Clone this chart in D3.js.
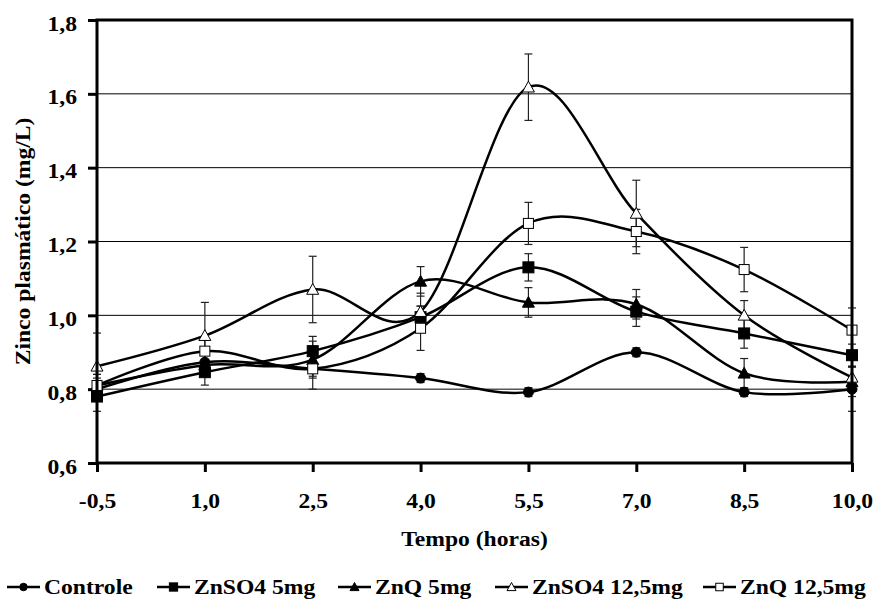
<!DOCTYPE html>
<html lang="pt">
<head>
<meta charset="UTF-8">
<title>Zinco plasmático</title>
<script src="https://d3js.org/d3.v7.min.js"></script>
<style>
    body { margin: 0; background: #fff; }
    text { font-family: "Liberation Serif", "Times New Roman", serif; font-weight: bold; fill: #000; }
</style>
</head>
<body>
<svg id="chart" width="876" height="602"></svg>
<script>
    const width = 876;
    const height = 602;
    const margin = { top: 20, right: 24, bottom: 139, left: 97 };
    const stretch = 1.18; // text in the original is a bit wider than tall

    // data
    const tempos = ["-0,5", "1,0", "2,5", "4,0", "5,5", "7,0", "8,5", "10,0"];
    const yTicks = [0.6, 0.8, 1.0, 1.2, 1.4, 1.6, 1.8];

    const controle = [0.800, 0.873, 0.855, 0.830, 0.792, 0.900, 0.792, 0.800];
    const controleErr = [0.03, 0.02, 0.02, 0.012, 0.012, 0.012, 0.012, 0.06];
    const znso4_5 = [0.780, 0.846, 0.903, 0.995, 1.130, 1.010, 0.951, 0.892];
    const znso4_5Err = [0.04, 0.035, 0.04, 0.03, 0.037, 0.04, 0.04, 0.03];
    const znq_5 = [0.810, 0.865, 0.880, 1.092, 1.035, 1.030, 0.843, 0.820];
    const znq_5Err = [0.03, 0.03, 0.05, 0.04, 0.04, 0.04, 0.04, 0.04];
    const znso4_125 = [0.862, 0.945, 1.070, 1.010, 1.618, 1.276, 1.000, 0.832];
    const znso4_125Err = [0.09, 0.09, 0.09, 0.05, 0.09, 0.09, 0.04, 0.03];
    const znq_125 = [0.810, 0.903, 0.855, 0.965, 1.249, 1.227, 1.124, 0.960];
    const znq_125Err = [0.03, 0.03, 0.055, 0.06, 0.057, 0.06, 0.06, 0.06];

    const series = [
        { name: "Controle", values: controle, err: controleErr, marker: "circle", fill: "#000" },
        { name: "ZnSO4 5mg", values: znso4_5, err: znso4_5Err, marker: "square", fill: "#000" },
        { name: "ZnQ 5mg", values: znq_5, err: znq_5Err, marker: "triangle", fill: "#000" },
        { name: "ZnSO4 12,5mg", values: znso4_125, err: znso4_125Err, marker: "triangle", fill: "#fff" },
        { name: "ZnQ 12,5mg", values: znq_125, err: znq_125Err, marker: "square", fill: "#fff" }
    ];

    const svg = d3.select("#chart");

    const x = d3.scalePoint().domain(tempos).range([margin.left, width - margin.right]);
    const y = d3.scaleLinear().domain([0.6, 1.8]).range([height - margin.bottom, margin.top]);
    const fmt = v => d3.format(".1f")(v).replace(".", ",");

    function label(px, py, txt, anchor) {
        return svg.append("text")
            .attr("transform", `translate(${px},${py}) scale(${stretch},1)`)
            .attr("text-anchor", anchor || "start")
            .style("font-size", "20px")
            .text(txt);
    }

    // gridlines
    svg.append("g")
        .selectAll("line")
        .data(yTicks.slice(1, -1))
        .join("line")
        .attr("x1", margin.left).attr("x2", width - margin.right)
        .attr("y1", d => y(d)).attr("y2", d => y(d))
        .attr("stroke", "#000").attr("stroke-width", 1);

    // axes
    const yAxis = svg.append("g")
        .attr("transform", `translate(${margin.left},0)`)
        .call(d3.axisLeft(y).tickValues(yTicks).tickSize(9).tickPadding(11).tickFormat(fmt));
    const xAxis = svg.append("g")
        .attr("transform", `translate(0,${height - margin.bottom})`)
        .call(d3.axisBottom(x).tickSize(9).tickPadding(22));
    [yAxis, xAxis].forEach(a => {
        a.select(".domain").remove();
        a.selectAll(".tick line").attr("stroke", "#000").attr("stroke-width", 3);
        a.selectAll(".tick text").style("font-size", "20px")
            .style("font-family", "'Liberation Serif', 'Times New Roman', serif")
            .style("font-weight", "bold")
            .attr("transform", `scale(${stretch},1)`);
    });
    yAxis.selectAll(".tick text").attr("x", -20 / stretch).attr("dy", "0.5em");

    // marker shapes
    function drawMarker(sel, type, fill, size) {
        const s = size || 1;
        if (type === "circle") {
            sel.append("circle").attr("r", 5 * s).attr("fill", fill).attr("stroke", "#000");
        } else if (type === "square") {
            const h = (fill === "#fff" ? 5 : 5.5) * s;
            sel.append("rect").attr("x", -h).attr("y", -h).attr("width", 2 * h).attr("height", 2 * h)
                .attr("fill", fill).attr("stroke", "#000");
        } else {
            const h = 6 * s;
            sel.append("path").attr("d", `M0,${-h}L${h},${h * 0.8}L${-h},${h * 0.8}Z`)
                .attr("fill", fill).attr("stroke", "#000");
        }
    }

    const line = d3.line()
        .x((d, i) => x(tempos[i]))
        .y(d => y(d))
        .curve(d3.curveCatmullRom.alpha(0));

    // error bars
    series.forEach(s => {
        const g = svg.append("g").attr("stroke", "#222").attr("stroke-width", 1.2);
        s.values.forEach((v, i) => {
            const cx = x(tempos[i]);
            const lo = y(v - s.err[i]), hi = y(v + s.err[i]);
            g.append("line").attr("x1", cx).attr("x2", cx).attr("y1", lo).attr("y2", hi);
            g.append("line").attr("x1", cx - 4).attr("x2", cx + 4).attr("y1", lo).attr("y2", lo);
            g.append("line").attr("x1", cx - 4).attr("x2", cx + 4).attr("y1", hi).attr("y2", hi);
        });
    });

    // lines and markers
    series.forEach(s => {
        svg.append("path")
            .datum(s.values)
            .attr("d", line)
            .attr("fill", "none")
            .attr("stroke", "#000")
            .attr("stroke-width", 2.5);
        s.values.forEach((v, i) => {
            const m = svg.append("g").attr("transform", `translate(${x(tempos[i])},${y(v)})`);
            drawMarker(m, s.marker, s.fill);
        });
    });

    // plot frame
    svg.append("rect")
        .attr("x", margin.left).attr("y", margin.top)
        .attr("width", width - margin.left - margin.right)
        .attr("height", height - margin.top - margin.bottom)
        .attr("fill", "none").attr("stroke", "#000").attr("stroke-width", 3);

    // axis titles
    label((margin.left + width - margin.right) / 2, 546, "Tempo (horas)", "middle");
    svg.append("text")
        .attr("transform", `translate(30,${(margin.top + height - margin.bottom) / 2}) rotate(-90) scale(${stretch},1)`)
        .attr("text-anchor", "middle")
        .style("font-size", "20px")
        .text("Zinco plasmático (mg/L)");

    // legend
    const legendX = [7, 157, 338, 495, 703];
    const legendY = 587;
    series.forEach((s, i) => {
        const g = svg.append("g").attr("transform", `translate(${legendX[i]},${legendY})`);
        g.append("line").attr("x1", 0).attr("x2", 33).attr("stroke", "#000").attr("stroke-width", 2.5);
        const m = g.append("g").attr("transform", "translate(16.5,0)");
        drawMarker(m, s.marker, s.fill, 0.75);
        label(legendX[i] + 37, legendY + 7, s.name);
    });
</script>
</body>
</html>
